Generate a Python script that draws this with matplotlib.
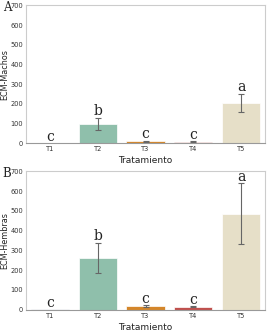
import matplotlib
matplotlib.use("Agg")
import matplotlib.pyplot as plt
import numpy as np

categories = ["T1", "T2", "T3", "T4", "T5"]
machos_mean = [0.5, 100, 11, 8, 205]
machos_err = [0, 30, 2, 2, 48]
hembras_mean = [1.5, 263, 19, 15, 485]
hembras_err = [0, 75, 3, 3, 155]
machos_letters = ["c", "b", "c", "c", "a"]
hembras_letters = ["c", "b", "c", "c", "a"]
colors = ["#b9c8d6", "#8fbfab", "#d4862a", "#c0504d", "#e6dfc8"]

fig = plt.figure(figsize=(2.67, 3.32), dpi=100)
axA = fig.add_axes([0.097, 0.568, 0.896, 0.416])
axB = fig.add_axes([0.097, 0.067, 0.896, 0.417])

def draw(ax, means, errs, letters, ylabel, panel):
    x = np.arange(len(categories))
    ax.bar(x, means, width=0.8, color=colors, edgecolor="white", linewidth=0.5, zorder=2)
    for xi, m, e in zip(x, means, errs):
        if e > 0:
            ax.errorbar(xi, m, yerr=e, color="#666666", linewidth=0.8,
                        capsize=2.5, capthick=0.8, zorder=3)
    for xi, m, e, l in zip(x, means, errs, letters):
        ax.text(xi, m + e - 2, l, ha="center", va="bottom", fontsize=10,
                family="DejaVu Serif", color="#222222", zorder=4)
    ax.set_xlim(-0.5, 4.5)
    ax.set_ylim(0, 700)
    ax.set_yticks(range(0, 701, 100))
    ax.set_xticks(x)
    ax.set_xticklabels(categories)
    ax.tick_params(axis="both", length=0, labelsize=4.8, pad=2, colors="#333333")
    ax.set_xlabel("Tratamiento", fontsize=6.5, labelpad=3, color="#222222")
    ax.set_ylabel(ylabel, fontsize=5.8, labelpad=1, color="#222222")
    for s in ["top", "right", "left"]:
        ax.spines[s].set_color("#cccccc")
        ax.spines[s].set_linewidth(0.8)
    ax.spines["bottom"].set_color("#999999")
    ax.spines["bottom"].set_linewidth(0.8)
    ax.text(-0.097, 0.985, panel, transform=ax.transAxes, fontsize=8.5,
            family="DejaVu Serif", ha="left", va="center", color="#222222")

draw(axA, machos_mean, machos_err, machos_letters, "ECM-Machos", "A")
draw(axB, hembras_mean, hembras_err, hembras_letters, "ECM-Hembras", "B")

fig.savefig("out.png", dpi=100)
